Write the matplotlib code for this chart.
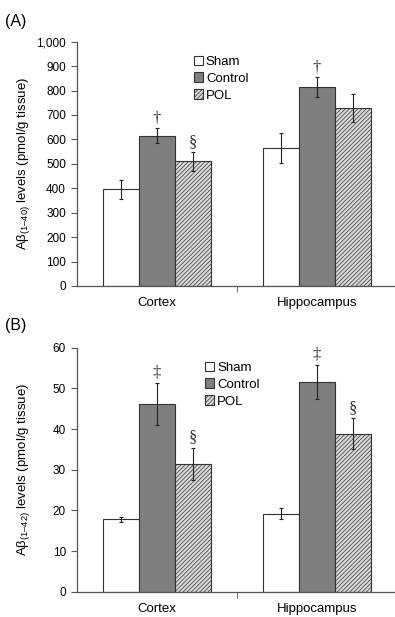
import numpy as np
import matplotlib
matplotlib.use("Agg")
import matplotlib.pyplot as plt
from matplotlib.ticker import FuncFormatter

plt.rcParams['font.family'] = ['Liberation Sans', 'DejaVu Sans']
plt.rcParams['mathtext.fontset'] = 'custom'
plt.rcParams['mathtext.rm'] = 'Liberation Sans'
plt.rcParams['mathtext.it'] = 'Liberation Sans'
plt.rcParams['hatch.linewidth'] = 0.5

regions = ["Cortex", "Hippocampus"]
groups = ["Sham", "Control", "POL"]

# panel A: Abeta(1-40)
a_means = {"Sham": [395, 565], "Control": [615, 815], "POL": [510, 728]}
a_errs = {"Sham": [40, 60], "Control": [30, 40], "POL": [40, 58]}
a_marks = {"Control": ["\u2020", "\u2020"], "POL": ["\u00a7", ""]}

# panel B: Abeta(1-42)
b_means = {"Sham": [17.8, 19.2], "Control": [46.2, 51.6], "POL": [31.4, 38.8]}
b_errs = {"Sham": [0.6, 1.4], "Control": [5.2, 4.2], "POL": [4.0, 3.8]}
b_marks = {"Control": ["\u2021", "\u2021"], "POL": ["\u00a7", "\u00a7"]}

styles = {
    "Sham": dict(facecolor="white", hatch=None),
    "Control": dict(facecolor="#7f7f7f", hatch=None),
    "POL": dict(facecolor="#d9d9d9", hatch="////////"),
}

fig = plt.figure(figsize=(3.95, 6.17), dpi=100)
axA = fig.add_axes([0.195, 0.5365, 0.81, 0.396])
axB = fig.add_axes([0.195, 0.041, 0.81, 0.3955])

x = np.arange(len(regions))
w = 0.225


def draw(ax, means, errs, marks, ymax, step, ylabel, mark_pad, legend_xy):
    for i, g in enumerate(groups):
        pos = x + (i - 1) * w
        ax.bar(pos, means[g], w, yerr=errs[g], label=g,
               facecolor=styles[g]["facecolor"], hatch=styles[g]["hatch"],
               edgecolor="#333333", linewidth=0.8,
               error_kw=dict(ecolor="#222222", elinewidth=0.8, capsize=1.5, capthick=0.8))
        if g in marks:
            for p, m, e, s in zip(pos, means[g], errs[g], marks[g]):
                if s:
                    ax.text(p, m + e + mark_pad, s, ha="center", va="bottom",
                            fontsize=12, family="Liberation Serif", color="#333333")
    ax.set_xlim(-0.5, 1.5)
    ax.set_ylim(0, ymax)
    ax.set_yticks(np.arange(0, ymax + step / 2, step))
    ax.yaxis.set_major_formatter(FuncFormatter(lambda v, p: f"{int(v):,}"))
    ax.set_xticks([0.5], minor=True)
    ax.set_xticks(x)
    ax.set_xticklabels(regions, fontsize=9.5)
    ax.tick_params(axis="x", which="major", length=0, pad=8)
    ax.tick_params(axis="x", which="minor", length=4, color="#555555")
    ax.tick_params(axis="y", labelsize=8.5, length=4, color="#555555", pad=4)
    for s in ["top", "right"]:
        ax.spines[s].set_visible(False)
    for s in ["left", "bottom"]:
        ax.spines[s].set_color("#555555")
        ax.spines[s].set_linewidth(0.9)
    ax.set_ylabel(ylabel, fontsize=9.5)
    ax.yaxis.set_label_coords(-0.14, 0.5)
    ax.legend(loc="upper left", bbox_to_anchor=legend_xy, frameon=False, fontsize=9.5,
              handlelength=0.7, handleheight=0.7, handletextpad=0.2, labelspacing=0.35,
              borderpad=0)


draw(axA, a_means, a_errs, a_marks, 1000, 100,
     "A\u03b2$_{(1\u201340)}$ levels (pmol/g tissue)", 8, (0.345, 0.97))
draw(axB, b_means, b_errs, b_marks, 60, 10,
     "A\u03b2$_{(1\u201342)}$ levels (pmol/g tissue)", 0.6, (0.38, 0.97))

fig.text(0.012, 0.965, "(A)", fontsize=11.5, va="center")
fig.text(0.012, 0.472, "(B)", fontsize=11.5, va="center")

fig.savefig("out.png", dpi=100)
